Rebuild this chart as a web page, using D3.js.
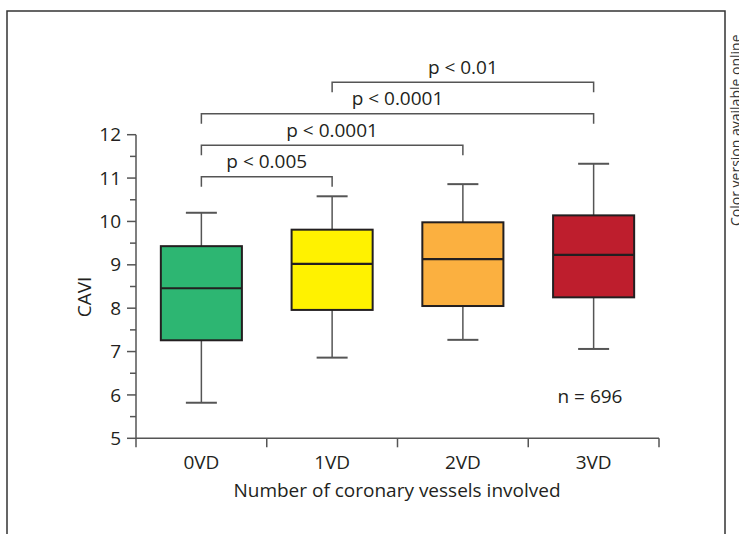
<!DOCTYPE html>
<html><head><meta charset="utf-8">
<script src="https://cdn.jsdelivr.net/npm/d3@7"></script>
<style>
body{margin:0;background:#fff;}
svg{display:block;font-family:"Open Sans",sans-serif;}
</style></head>
<body><svg id="c" width="739" height="534"></svg>
<script>
const categories = ["0VD","1VD","2VD","3VD"];
const whiskerLow  = [5.82, 6.86, 7.27, 7.06];
const q1          = [7.26, 7.96, 8.05, 8.25];
const median      = [8.46, 9.02, 9.13, 9.23];
const q3          = [9.43, 9.81, 9.98, 10.14];
const whiskerHigh = [10.2, 10.58, 10.86, 11.33];
const colors      = ["#2db672","#fff200","#fbb040","#be1e2d"];
const yTicks      = [5,6,7,8,9,10,11,12];
const yMinorTicks = [5.5,6.5,7.5,8.5,9.5,10.5,11.5];
const comparisons = [
  {from:"0VD", to:"1VD", label:"p < 0.005"},
  {from:"0VD", to:"2VD", label:"p < 0.0001"},
  {from:"0VD", to:"3VD", label:"p < 0.0001"},
  {from:"1VD", to:"3VD", label:"p < 0.01"}
];
const nLabel = "n = 696";

const svg = d3.select("#c");
const ink = "#231f20", grey = "#555";
const fs = 19;

// frame
svg.append("rect").attr("x",7).attr("y",11).attr("width",718).attr("height",600)
  .attr("fill","none").attr("stroke","#333").attr("stroke-width",1.5);
svg.append("text").attr("transform","translate(741,226) rotate(-90)")
  .attr("font-size",14).attr("fill","#333").text("Color version available online");

const x = d3.scaleBand().domain(categories).range([136,659]);
const y = d3.scaleLinear().domain([5,12]).range([438.3,134.7]);
const bw = x.bandwidth()*0.62, cap = 31;
const cx = c => x(c)+x.bandwidth()/2;

// y axis
const gy = svg.append("g");
gy.append("line").attr("x1",136).attr("x2",136).attr("y1",y(12)).attr("y2",y(5))
  .attr("stroke",grey).attr("stroke-width",1.5);
gy.selectAll(".mj").data(yTicks).join("line").attr("class","mj").attr("x1",127).attr("x2",136)
  .attr("y1",d=>y(d)).attr("y2",d=>y(d)).attr("stroke",grey).attr("stroke-width",1.5);
gy.selectAll(".mn").data(yMinorTicks).join("line").attr("class","mn").attr("x1",130).attr("x2",136)
  .attr("y1",d=>y(d)).attr("y2",d=>y(d)).attr("stroke",grey).attr("stroke-width",1.5);
gy.selectAll("text").data(yTicks).join("text").attr("x",121).attr("y",d=>y(d))
  .attr("dy","0.35em").attr("text-anchor","end").attr("font-size",fs).attr("fill",ink).text(d=>d);
svg.append("text").attr("transform","translate(91,297) rotate(-90)").attr("text-anchor","middle")
  .attr("font-size",fs).attr("fill",ink).text("CAVI");

// x axis
const gx = svg.append("g");
gx.append("line").attr("x1",136).attr("x2",659).attr("y1",y(5)).attr("y2",y(5))
  .attr("stroke",grey).attr("stroke-width",1.5);
const bounds = categories.map(c=>x(c)).concat([x.range()[1]]);
gx.selectAll(".tk").data(bounds).join("line").attr("class","tk").attr("x1",d=>d).attr("x2",d=>d)
  .attr("y1",y(5)).attr("y2",y(5)+9).attr("stroke",grey).attr("stroke-width",1.5);
gx.selectAll("text").data(categories).join("text").attr("x",cx).attr("y",469)
  .attr("text-anchor","middle").attr("font-size",fs).attr("fill",ink).text(d=>d);
svg.append("text").attr("x",397).attr("y",497).attr("text-anchor","middle")
  .attr("font-size",fs).attr("fill",ink).text("Number of coronary vessels involved");

// boxes
const data = categories.map((c,i)=>({c,lo:whiskerLow[i],q1:q1[i],md:median[i],q3:q3[i],hi:whiskerHigh[i],col:colors[i]}));
const g = svg.append("g").selectAll("g").data(data).join("g");
g.append("line").attr("x1",d=>cx(d.c)).attr("x2",d=>cx(d.c)).attr("y1",d=>y(d.hi)).attr("y2",d=>y(d.q3))
  .attr("stroke",grey).attr("stroke-width",1.5);
g.append("line").attr("x1",d=>cx(d.c)).attr("x2",d=>cx(d.c)).attr("y1",d=>y(d.q1)).attr("y2",d=>y(d.lo))
  .attr("stroke",grey).attr("stroke-width",1.5);
g.append("line").attr("x1",d=>cx(d.c)-cap/2).attr("x2",d=>cx(d.c)+cap/2).attr("y1",d=>y(d.hi)).attr("y2",d=>y(d.hi))
  .attr("stroke",grey).attr("stroke-width",2);
g.append("line").attr("x1",d=>cx(d.c)-cap/2).attr("x2",d=>cx(d.c)+cap/2).attr("y1",d=>y(d.lo)).attr("y2",d=>y(d.lo))
  .attr("stroke",grey).attr("stroke-width",2);
g.append("rect").attr("x",d=>cx(d.c)-bw/2).attr("width",bw).attr("y",d=>y(d.q3)).attr("height",d=>y(d.q1)-y(d.q3))
  .attr("fill",d=>d.col).attr("stroke",ink).attr("stroke-width",2);
g.append("line").attr("x1",d=>cx(d.c)-bw/2).attr("x2",d=>cx(d.c)+bw/2).attr("y1",d=>y(d.md)).attr("y2",d=>y(d.md))
  .attr("stroke",ink).attr("stroke-width",2.2);

// brackets
const by0 = 176.7, bstep = 31.5, leg = 10;
const br = svg.append("g").selectAll("g").data(comparisons).join("g");
br.append("path").attr("d",(d,i)=>{const yy=by0-i*bstep;return `M${cx(d.from)},${yy+leg}V${yy}H${cx(d.to)}V${yy+leg}`;})
  .attr("fill","none").attr("stroke",grey).attr("stroke-width",1.5);
br.append("text").attr("x",d=>(cx(d.from)+cx(d.to))/2).attr("y",(d,i)=>by0-i*bstep-8.5)
  .attr("text-anchor","middle").attr("font-size",fs).attr("fill",ink).text(d=>d.label);

svg.append("text").attr("x",590).attr("y",403).attr("text-anchor","middle")
  .attr("font-size",fs).attr("fill",ink).text(nLabel);
</script></body></html>
